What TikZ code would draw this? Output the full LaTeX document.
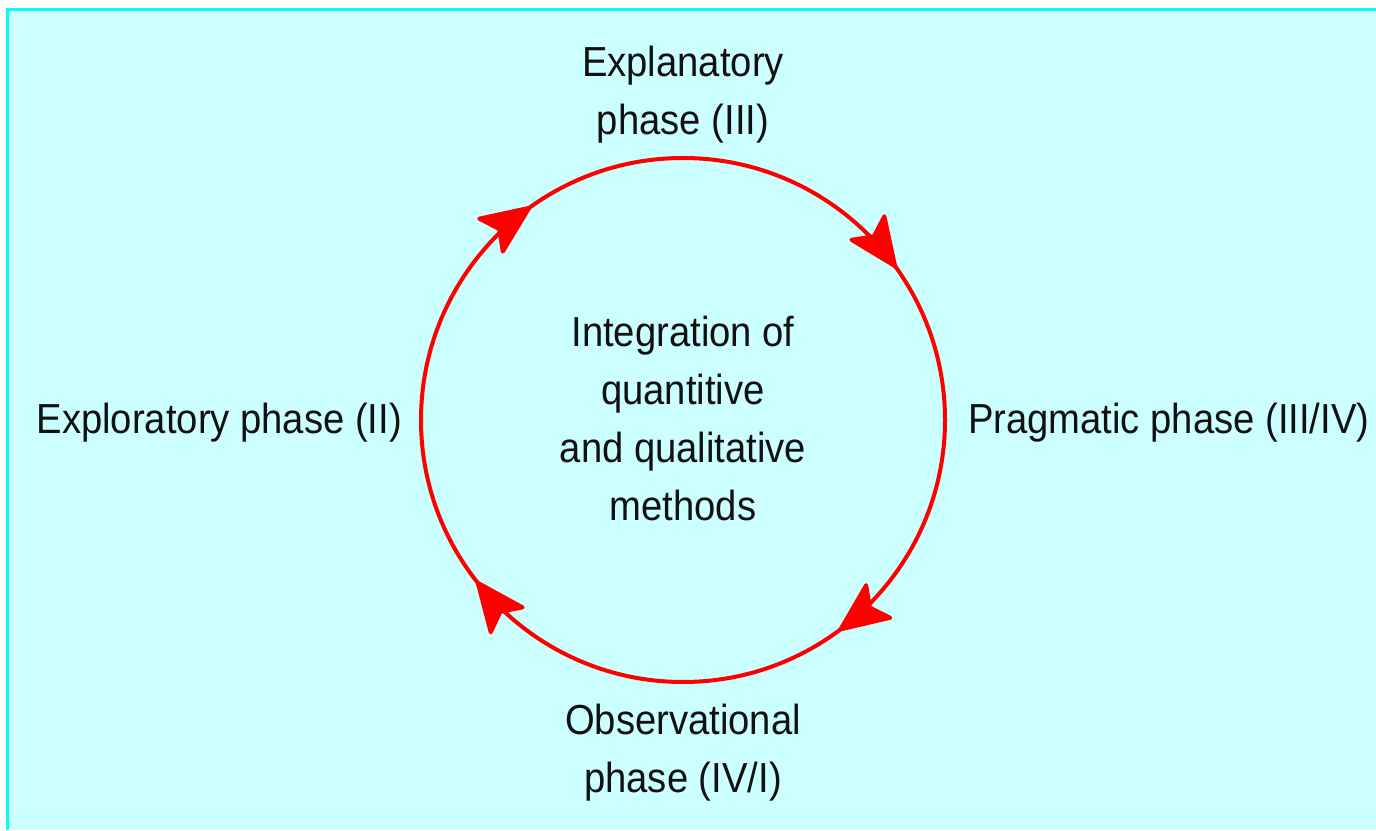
\documentclass[tikz,border=0pt]{standalone}
\usepackage{fontspec}
\setmainfont{Liberation Sans}[FakeStretch=0.91]
\usetikzlibrary{arrows.meta}
\definecolor{bgcyan}{HTML}{CCFFFF}
\definecolor{edgecyan}{HTML}{00FFFF}
\definecolor{ringred}{HTML}{FF0000}
\definecolor{txt}{HTML}{111111}
\tikzset{
  lbl/.style={inner sep=0pt, outer sep=0pt, align=center, text=txt,
    font=\fontsize{21pt}{29pt}\selectfont},
  ring/.style={circle, draw=ringred, line width=2pt, minimum size=262pt,
    inner sep=0pt, outer sep=0pt},
  tipline/.style={draw=ringred, line width=2pt,
    -{Stealth[length=28pt, width=24pt, inset=6pt, fill=ringred, round]}}
}
\begin{document}
\begin{tikzpicture}[x=0.5pt, y=0.5pt]
  \useasboundingbox (0,0) rectangle (1376,830);
  \fill[white] (0,0) rectangle (1376,830);
  \fill[bgcyan] (6,0) rectangle (1376,822);
  \draw[edgecyan, line width=1.5pt] (7.5,0) -- (7.5,820.5) -- (1376,820.5);
  \node[ring] (circ) at (683,410) {};
  \node[lbl] (mid) at (683,412) {Integration of\\quantitive\\and qualitative\\methods};
  \node[lbl] (top) at (683,735) {Explanatory\\phase (III)};
  \node[lbl] (bot) at (683,77.5) {Observational\\phase (IV/I)};
  \node[lbl, anchor=base east] (left) at (402,396) {Exploratory phase (II)};
  \node[lbl, anchor=base west] (right) at (968,396) {Pragmatic phase (III/IV)};
  \draw[tipline] (circ.134) arc[start angle=134, end angle=125.5, radius=262];
  \draw[tipline] (circ.44) arc[start angle=44, end angle=35.5, radius=262];
  \draw[tipline] (circ.-45) arc[start angle=-45, end angle=-53.5, radius=262];
  \draw[tipline] (circ.-134) arc[start angle=-134, end angle=-142, radius=262];
\end{tikzpicture}
\end{document}
